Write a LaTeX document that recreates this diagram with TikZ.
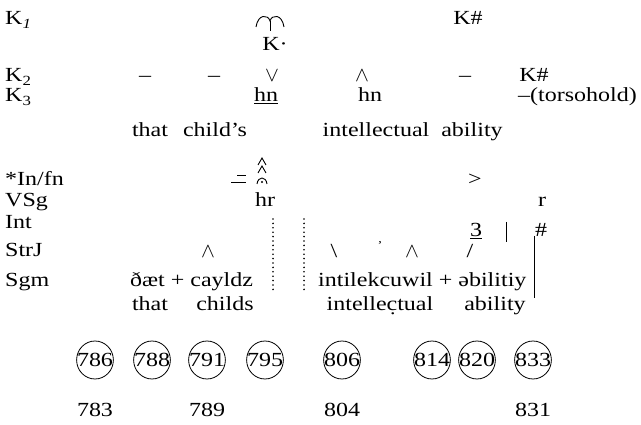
\documentclass[tikz,border=0pt]{standalone}
\usepackage{fontspec}
\setmainfont{Liberation Serif}[FakeStretch=1.2]
\usetikzlibrary{positioning,shapes.geometric}

\tikzset{
  tier/.style={anchor=base west, inner sep=0pt},
  txt/.style={anchor=base, inner sep=0pt},
  pitch/.style={draw, ellipse, inner xsep=-5pt, inner ysep=0pt, minimum width=36pt, minimum height=38pt, line width=0.8pt},
  dotline/.style={line width=1.8pt, line cap=round, dash pattern=on 0pt off 4.4pt},
  glyph/.style={line width=0.9pt}
}

\begin{document}
\begin{tikzpicture}[x=1pt, y=-1pt, font=\fontsize{20}{24}\selectfont]
\useasboundingbox (0,0) rectangle (641,425);

% tier names
\node[tier] (k1)   at (5,25)  {K\textsubscript{\textit{1}}};
\node[tier] (k2)   at (5,82)  {K\textsubscript{2}};
\node[tier] (k3)   at (5,102) {K\textsubscript{3}};
\node[tier] (infn) at (5,186) {*In/fn};
\node[tier] (vsg)  at (5,207) {VSg};
\node[tier] (int)  at (5,229) {Int};
\node[tier] (strj) at (5,257) {StrJ};
\node[tier] (sgm)  at (5,287) {Sgm};

% K1
\coordinate (hook) at (270,21);
\draw[glyph] (256,27) .. controls (258,14) and (268,14) .. (hook)
             .. controls (272,14) and (282,14) .. (284,27);
\draw[glyph] (hook) -- ++(0,10);
\node[txt] (kdot) at (275,51)  {K·};
\node[txt] (ktop) at (468,25)  {K\#};

% K2
\node[txt] (dashA) at (145,82) {–};
\node[txt] (dashB) at (214,82) {–};
\node[txt] (vee)   at (272,82) {$\vee$};
\node[txt] (wedA)  at (362,82) {$\wedge$};
\node[txt] (dashC) at (465,82) {–};
\node[txt] (kend)  at (534,82) {K\#};

% K3
\node[txt] (hnA)  at (266,102) {\underline{hn}};
\node[txt] (hnB)  at (370,102) {hn};
\node[tier] (tors) at (518,102) {–(torsohold)};

% words
\node[txt] (wThat)  at (150,137) {that};
\node[txt] (wChild) at (215,137) {child’s};
\node[txt] (wIntel) at (376,137) {intellectual};
\node[txt] (wAbil)  at (472,137) {ability};

% In/fn
\draw[glyph] (237,175) -- (246,175);
\draw[glyph] (231,182) -- (246,182);
\draw[glyph] (258,165) -- (262,158) -- (266,165);
\draw[glyph] (258,173) -- (262,166) -- (266,173);
\draw[glyph] (257,184) .. controls (258,176) and (266,176) .. (267,184);
\fill (262,182) circle (1.1pt);
\node[txt] (gt) at (475,186) {>};

% VSg
\node[txt] (hr) at (265,207) {hr};
\node[txt] (rr) at (542,207) {r};

% Int
\node[txt] (three) at (476,237) {\underline{3}};
\coordinate (barT) at (506,222);
\coordinate (barB) at (506,242);
\draw[glyph] (barT) -- (barB);
\node[txt] (hash)  at (541,237) {\#};

% StrJ
\node[txt] (wedB)  at (208,258) {$\wedge$};
\node[txt] (bsl)   at (334,258) {\textbackslash};
\node[txt] (tick)  at (380,250) {\fontsize{12}{12}\selectfont ’};
\node[txt] (wedC)  at (412,258) {$\wedge$};
\node[txt] (slash) at (470,258) {/};

% Sgm
\node[tier] (segA) at (130,287) {ðæt + cayldz};
\node[tier] (segB) at (318,287) {intilekcuwil + əbilitiy};

% pauses and juncture
\coordinate (pA1) at (273,219);
\coordinate (pA2) at (273,292);
\coordinate (pB1) at (304,219);
\coordinate (pB2) at (304,292);
\draw[dotline] (pA1) -- (pA2);
\draw[dotline] (pB1) -- (pB2);
\coordinate (jTop) at (534,236);
\coordinate (jBot) at (534,298);
\draw[line width=0.9pt] (jTop) -- (jBot);

% gloss
\node[txt] (gThat)  at (150,311) {that};
\node[txt] (gChild) at (225,311) {childs};
\node[txt] (gIntel) at (380,311) {intelle\d{c}tual};
\node[txt] (gAbil)  at (495,311) {ability};

% time marks
\node[pitch] (c786) at (95,360)  {786};
\node[pitch] (c788) at (152,360) {788};
\node[pitch] (c791) at (207,360) {791};
\node[pitch] (c795) at (265,360) {795};
\node[pitch] (c806) at (342,360) {806};
\node[pitch] (c814) at (432,360) {814};
\node[pitch] (c820) at (477,360) {820};
\node[pitch] (c833) at (533,360) {833};

\node[txt] (n783) at (95,416)  {783};
\node[txt] (n789) at (207,416) {789};
\node[txt] (n804) at (342,416) {804};
\node[txt] (n831) at (533,416) {831};

\end{tikzpicture}
\end{document}
